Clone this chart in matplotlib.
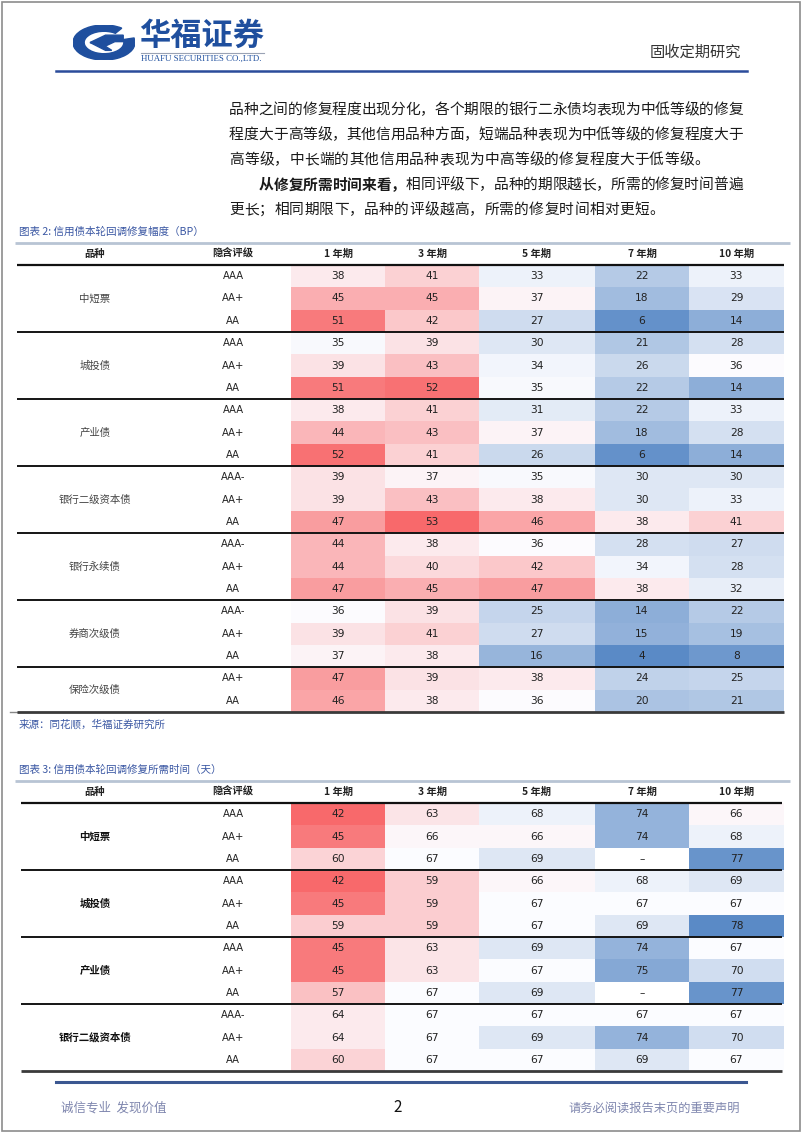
import numpy as np
import matplotlib
matplotlib.use("Agg")
import matplotlib.pyplot as plt
from matplotlib.colors import LinearSegmentedColormap, TwoSlopeNorm
from matplotlib.patches import Wedge, Polygon, Rectangle

plt.rcParams['font.family'] = ['Noto Sans CJK SC', 'DejaVu Sans']

# ---------------- data ----------------
terms = ['1 年期', '3 年期', '5 年期', '7 年期', '10 年期']
head_variety = '品种'
head_rating = '隐含评级'

t1_title = '图表 2: 信用债本轮回调修复幅度（BP）'
t1_groups = ['中短票', '城投债', '产业债', '银行二级资本债', '银行永续债', '券商次级债', '保险次级债']
t1_ratings = [['AAA', 'AA+', 'AA'], ['AAA', 'AA+', 'AA'], ['AAA', 'AA+', 'AA'],
              ['AAA-', 'AA+', 'AA'], ['AAA-', 'AA+', 'AA'], ['AAA-', 'AA+', 'AA'],
              ['AA+', 'AA']]
t1_values = [
    [38, 41, 33, 22, 33], [45, 45, 37, 18, 29], [51, 42, 27, 6, 14],
    [35, 39, 30, 21, 28], [39, 43, 34, 26, 36], [51, 52, 35, 22, 14],
    [38, 41, 31, 22, 33], [44, 43, 37, 18, 28], [52, 41, 26, 6, 14],
    [39, 37, 35, 30, 30], [39, 43, 38, 30, 33], [47, 53, 46, 38, 41],
    [44, 38, 36, 28, 27], [44, 40, 42, 34, 28], [47, 45, 47, 38, 32],
    [36, 39, 25, 14, 22], [39, 41, 27, 15, 19], [37, 38, 16, 4, 8],
    [47, 39, 38, 24, 25], [46, 38, 36, 20, 21],
]
t1_source = '来源：同花顺，华福证券研究所'

t2_title = '图表 3: 信用债本轮回调修复所需时间（天）'
t2_groups = ['中短票', '城投债', '产业债', '银行二级资本债']
t2_ratings = [['AAA', 'AA+', 'AA'], ['AAA', 'AA+', 'AA'], ['AAA', 'AA+', 'AA'],
              ['AAA-', 'AA+', 'AA']]
nan = np.nan
t2_values = [
    [42, 63, 68, 74, 66], [45, 66, 66, 74, 68], [60, 67, 69, nan, 77],
    [42, 59, 66, 68, 69], [45, 59, 67, 67, 67], [59, 59, 67, 69, 78],
    [45, 63, 69, 74, 67], [45, 63, 67, 75, 70], [57, 67, 69, nan, 77],
    [64, 67, 67, 67, 67], [64, 67, 69, 74, 70], [60, 67, 67, 69, 67],
]

body_lines = [
    '品种之间的修复程度出现分化，各个期限的银行二永债均表现为中低等级的修复',
    '程度大于高等级，其他信用品种方面，短端品种表现为中低等级的修复程度大于',
    '高等级，中长端的其他信用品种表现为中高等级的修复程度大于低等级。',
    '从修复所需时间来看，相同评级下，品种的期限越长，所需的修复时间普遍',
    '更长；相同期限下，品种的评级越高，所需的修复时间相对更短。',
]
body_bold_counts = [0, 0, 0, 10, 0]
body_justified = [True, True, False, True, False]
body_indent = [False, False, False, True, False]

brand_cn = '华福证券'
brand_en = 'HUAFU SECURITIES CO.,LTD.'
report_type = '固收定期研究'
footer_left = '诚信专业  发现价值'
footer_page = '2'
footer_right = '请务必阅读报告末页的重要声明'

# ---------------- layout ----------------
W, H = 802, 1133
BLUE = '#1F4F9E'
TITLE_BLUE = '#3A57A3'
col_edges = [291, 385, 479, 595, 689, 784]
x_variety, x_rating = 95, 233
red_white_blue = ['#5A8AC6', '#FCFCFF', '#F8696B']

fig = plt.figure(figsize=(W / 100, H / 100), dpi=100)
page = fig.add_axes([0, 0, 1, 1])
page.set_xlim(0, W)
page.set_ylim(H, 0)
page.axis('off')

# page frame
page.add_patch(Rectangle((1.5, 1.5), W - 3.5, H - 3.5, fill=False, ec='#8c8c8c', lw=1.2))

# ---------------- header ----------------
logo = fig.add_axes([73 / W, 1 - 60 / H, 62 / W, 35 / H])
logo.set_xlim(-1, 1)
logo.set_ylim(-1, 1)
logo.axis('off')
logo.add_patch(Wedge((0, 0), 1.0, 55, 375, width=0.36, color=BLUE))
logo.add_patch(Polygon([(-0.45, 0.0), (0.05, 0.42), (0.62, 0.42), (0.62, 0.05),
                        (0.35, 0.05), (0.05, -0.2), (-0.05, -0.2)], closed=True, color=BLUE))
logo.add_patch(Polygon([(-0.45, 0.0), (0.05, -0.45), (0.25, -0.45), (-0.1, -0.05)],
                       closed=True, color=BLUE))

page.text(139, 36, brand_cn, fontsize=22.5, weight='bold', color=BLUE, va='center', ha='left')
page.plot([141, 264], [52.5, 52.5], color='#9aa3b5', lw=0.8)
page.text(141, 59, brand_en, fontsize=6.4, color=BLUE, va='center', ha='left',
          family=['Liberation Serif', 'DejaVu Serif'])
page.text(741, 52, report_type, fontsize=11, color='#333333', va='center', ha='right')
page.plot([56, 747], [70.5, 70.5], color='#2B4C9B', lw=1.8)

# ---------------- body text ----------------
x_text0, x_text1 = 229, 743
pitch_plain = 15.0
for k, line in enumerate(body_lines):
    y = 110 + 25 * k
    x0 = x_text0 + (2 * pitch_plain if body_indent[k] else 0)
    pitch = (x_text1 - x0) / len(line) if body_justified[k] else pitch_plain
    for i, ch in enumerate(line):
        page.text(x0 + (i + 0.5) * pitch, y, ch, fontsize=10.6, ha='center', va='center',
                  color='#1a1a1a', weight='bold' if i < body_bold_counts[k] else 'normal')


# ---------------- tables ----------------
def draw_table(y_top, y_bottom, title, groups, ratings, values, colors, cat_bold,
               line_x0, line_x1, label_color):
    n = len(values)
    page.text(19, y_top - 11, title, fontsize=7.6, color=TITLE_BLUE, ha='left', va='center')
    ax = fig.add_axes([0, 1 - y_bottom / H, 1, (y_bottom - y_top) / H])
    ax.set_xlim(0, W)
    ax.set_ylim(n, -1)
    ax.axis('off')
    arr = np.array(values, dtype=float)
    fin = arr[np.isfinite(arr)]
    cmap = LinearSegmentedColormap.from_list('excel3', colors)
    cmap.set_bad('white')
    norm = TwoSlopeNorm(vmin=fin.min(), vcenter=np.percentile(fin, 50), vmax=fin.max())
    ax.pcolormesh(col_edges, np.arange(n + 1), np.ma.masked_invalid(arr),
                  cmap=cmap, norm=norm, shading='flat')
    # header
    ax.text(x_variety, -0.5, head_variety, fontsize=7.4, weight='bold', ha='center', va='center', color='#222')
    ax.text(x_rating, -0.5, head_rating, fontsize=7.4, weight='bold', ha='center', va='center', color='#222')
    for j, t in enumerate(terms):
        ax.text((col_edges[j] + col_edges[j + 1]) / 2, -0.5, t, fontsize=7.4, weight='bold',
                ha='center', va='center', color='#222')
    # values
    for i in range(n):
        for j in range(arr.shape[1]):
            v = arr[i, j]
            s = '–' if np.isnan(v) else f'{int(v)}'
            ax.text((col_edges[j] + col_edges[j + 1]) / 2, i + 0.5, s, fontsize=7.7,
                    ha='center', va='center', color='#222', family=['DejaVu Sans'])
    # groups
    r = 0
    for g, rs in zip(groups, ratings):
        ax.text(x_variety, r + len(rs) / 2, g, fontsize=7.5, ha='center', va='center',
                color=label_color, weight='bold' if cat_bold else 'normal')
        for k, rt in enumerate(rs):
            ax.text(x_rating, r + k + 0.5, rt, fontsize=7.2, ha='center', va='center',
                    color='#222', family=['Liberation Sans Narrow', 'DejaVu Sans'])
        r += len(rs)
        last = r == n
        ax.plot([line_x0, line_x1], [r, r], color='#3a3a3a' if last else '#141414',
                lw=2.0 if last else 1.4, clip_on=False, solid_capstyle='butt')
    ax.plot([15, 790], [-1, -1], color='#B8C4D4', lw=2.0, clip_on=False, solid_capstyle='butt')
    ax.plot([line_x0, line_x1], [0, 0], color='#111', lw=1.6, clip_on=False, solid_capstyle='butt')
    return ax


draw_table(242.6, 712, t1_title, t1_groups, t1_ratings, t1_values, red_white_blue,
           False, 17, 784, '#444444')
page.plot([10, 17], [712, 712], color='#888', lw=1.0)
page.text(19, 724, t1_source, fontsize=7.6, color=TITLE_BLUE, ha='left', va='center')

draw_table(780.7, 1071, t2_title, t2_groups, t2_ratings, t2_values, red_white_blue[::-1],
           True, 21, 782, '#111111')

# ---------------- footer ----------------
page.plot([56, 746], [1082, 1082], color='#3B5791', lw=2.2)
page.text(61, 1108, footer_left, fontsize=9, color='#7F86AE', ha='left', va='center')
page.text(398, 1108, footer_page, fontsize=11, color='#111', ha='center', va='center')
page.text(740, 1108, footer_right, fontsize=8.8, color='#7F86AE', ha='right', va='center')

fig.savefig('out.png', dpi=100)
